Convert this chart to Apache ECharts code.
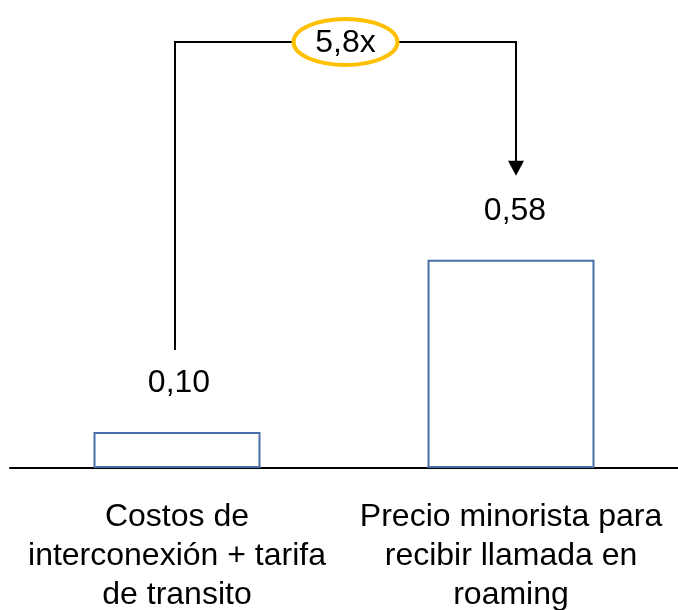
<!DOCTYPE html>
<html><head><meta charset="utf-8">
<script src="https://cdn.jsdelivr.net/npm/echarts@6/dist/echarts.min.js"></script>
<style>html,body{margin:0;padding:0;background:#fff}#c{width:678px;height:610px}</style>
</head><body><div id="c"></div>
<script>
const categories = ['Costos de\ninterconexión + tarifa\nde transito', 'Precio minorista para\nrecibir llamada en\nroaming'];
const values = [0.10, 0.58];
const ratioLabel = '5,8x';
const FONT = '"Liberation Sans", Arial, sans-serif';

const chart = echarts.init(document.getElementById('c'), null, {renderer: 'canvas'});
const fmt = v => v.toFixed(2).replace('.', ',');
const labelOffsets = [[2, 0], [4, 0]];
chart.setOption({
  animation: false,
  grid: {left: 10, right: 0, top: 109, bottom: 142, containLabel: false, outerBoundsMode: 'none'},
  xAxis: {
    type: 'category', data: categories,
    axisLine: {lineStyle: {color: '#000', width: 2}},
    axisTick: {show: false},
    axisLabel: {fontFamily: FONT, fontSize: 32, color: '#000', lineHeight: 39, margin: 30, interval: 0}
  },
  yAxis: {type: 'value', min: 0, max: 1, show: false, splitLine: {show: false}},
  series: [{
    type: 'bar', barWidth: 167,
    data: values.map((v, i) => ({value: v, label: {offset: labelOffsets[i]}})),
    itemStyle: {color: '#fff', borderColor: '#4a6ea8', borderWidth: 2},
    label: {show: true, position: 'top', distance: 33, formatter: p => fmt(p.value),
      fontFamily: FONT, fontSize: 32, color: '#000'}
  }]
});

const p1 = chart.convertToPixel({xAxisIndex: 0, yAxisIndex: 0}, [0, values[0]]);
const p2 = chart.convertToPixel({xAxisIndex: 0, yAxisIndex: 0}, [1, values[1]]);
const x1 = Math.round(p1[0]) - 2, x2 = Math.round(p2[0]) + 5;
const topY = 42;
const y1 = p1[1] - 82;
const tipY = p2[1] - 84;
const cx = (x1 + x2) / 2;
chart.setOption({
  graphic: [
    {type: 'polyline', shape: {points: [[x1, y1], [x1, topY], [x2, topY], [x2, tipY - 14]]},
      style: {stroke: '#000', lineWidth: 2, fill: null}},
    {type: 'polygon', shape: {points: [[x2 - 8, tipY - 15], [x2 + 8, tipY - 15], [x2, tipY]]},
      style: {fill: '#000'}},
    {type: 'ellipse', shape: {cx: cx, cy: topY, rx: 52, ry: 23},
      style: {fill: '#fff', stroke: '#ffc000', lineWidth: 4}},
    {type: 'text', x: cx, y: topY + 1, style: {text: ratioLabel, fontFamily: FONT, fontSize: 32,
      fill: '#000', align: 'center', verticalAlign: 'middle'}}
  ]
});
</script></body></html>
